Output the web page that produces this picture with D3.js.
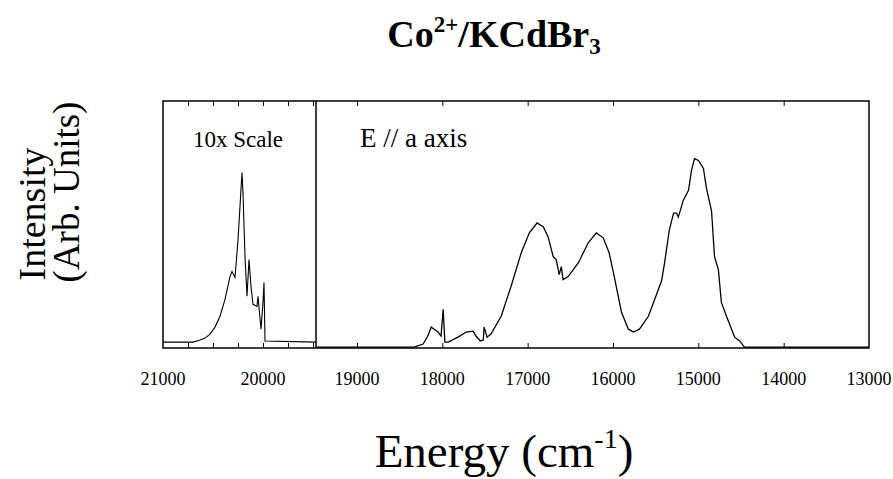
<!DOCTYPE html>
<html>
<head>
<meta charset="utf-8">
<script src="https://cdn.jsdelivr.net/npm/d3@7"></script>
<style>
  body { margin: 0; background: #fff; }
  text { font-family: "Liberation Serif", "Times New Roman", serif; fill: #000; }
</style>
</head>
<body>
<svg id="chart" width="893" height="479"></svg>
<script>
// left panel (10x scale)
const leftEnergy = [21000, 20700, 20630, 20580, 20530, 20480, 20430, 20380, 20330, 20310, 20280, 20250, 20210, 20200, 20180, 20160, 20140, 20120, 20100, 20060, 20050, 20020, 20000, 19990, 19980, 19470];
const leftIntensity = [0.031, 0.031, 0.042, 0.052, 0.073, 0.110, 0.167, 0.256, 0.376, 0.402, 0.371, 0.569, 0.924, 0.815, 0.480, 0.272, 0.465, 0.324, 0.230, 0.219, 0.272, 0.099, 0.240, 0.345, 0.037, 0.031];

// main panel, E // a axis
const mainEnergy = [19480, 18330, 18225, 18170, 18130, 18095, 18050, 18015, 17990, 17970, 17930, 17815, 17720, 17640, 17605, 17555, 17520, 17510, 17475, 17430, 17310, 17195, 17075, 16980, 16890, 16815, 16760, 16700, 16665, 16630, 16605, 16585, 16525, 16405, 16290, 16195, 16115, 16045, 15985, 15900, 15820, 15760, 15690, 15585, 15490, 15430, 15395, 15340, 15290, 15255, 15235, 15175, 15115, 15080, 15045, 14998, 14940, 14905, 14845, 14810, 14765, 14730, 14670, 14610, 14575, 14515, 14460, 13000];
const mainIntensity = [0.005, 0.005, 0.021, 0.063, 0.110, 0.099, 0.084, 0.063, 0.204, 0.031, 0.031, 0.057, 0.084, 0.089, 0.063, 0.037, 0.042, 0.110, 0.057, 0.073, 0.167, 0.324, 0.501, 0.606, 0.658, 0.637, 0.585, 0.480, 0.465, 0.386, 0.428, 0.360, 0.376, 0.449, 0.554, 0.606, 0.580, 0.501, 0.376, 0.188, 0.099, 0.084, 0.099, 0.167, 0.282, 0.355, 0.449, 0.621, 0.710, 0.710, 0.689, 0.778, 0.830, 0.935, 0.997, 0.987, 0.945, 0.841, 0.720, 0.480, 0.413, 0.240, 0.167, 0.099, 0.057, 0.037, 0.005, 0.005];

const leftTicks = [20750, 20500, 20250, 20000, 19750, 19500];
const leftLabels = [21000, 20000];
const mainTicks = [19000, 18000, 17000, 16000, 15000, 14000];
const mainLabels = [19000, 18000, 17000, 16000, 15000, 14000, 13000];

const svg = d3.select('#chart');
const frameTop = 101, frameBottom = 348, frameLeft = 163, split = 316, frameRight = 869;

const xl = d3.scaleLinear().domain([21000, 19470]).range([frameLeft, split]);
const xm = d3.scaleLinear().domain([19480, 13000]).range([split, frameRight]);
const y = d3.scaleLinear().domain([0, 1.3]).range([frameBottom, frameTop]);

// ticks, inward on top and bottom
function ticks(scale, values) {
  const g = svg.append('g');
  g.append('g').attr('transform', `translate(0,${frameBottom})`)
    .call(d3.axisBottom(scale).tickValues(values).tickSize(-5).tickFormat(''))
    .call(a => a.select('.domain').remove());
  g.append('g').attr('transform', `translate(0,${frameTop})`)
    .call(d3.axisTop(scale).tickValues(values).tickSize(-5).tickFormat(''))
    .call(a => a.select('.domain').remove());
  g.selectAll('line').attr('stroke', '#000').attr('stroke-width', 1);
}
ticks(xl, leftTicks);
ticks(xm, mainTicks);

// tick labels
svg.append('g').selectAll('text').data(leftLabels).enter().append('text')
  .attr('x', d => xl(d)).attr('y', 385).attr('text-anchor', 'middle')
  .attr('font-size', 18).text(d => d);
svg.append('g').selectAll('text').data(mainLabels).enter().append('text')
  .attr('x', d => xm(d)).attr('y', 385).attr('text-anchor', 'middle')
  .attr('font-size', 18).text(d => d);

// spectra
const line = xs => d3.line().x(d => xs(d[0])).y(d => y(d[1]));
svg.append('path').datum(d3.zip(leftEnergy, leftIntensity))
  .attr('d', line(xl)).attr('fill', 'none').attr('stroke', '#000').attr('stroke-width', 1.1);
svg.append('path').datum(d3.zip(mainEnergy, mainIntensity))
  .attr('d', line(xm)).attr('fill', 'none').attr('stroke', '#000').attr('stroke-width', 1.3);

// frame
svg.append('rect').attr('x', frameLeft).attr('y', frameTop)
  .attr('width', frameRight - frameLeft).attr('height', frameBottom - frameTop)
  .attr('fill', 'none').attr('stroke', '#000').attr('stroke-width', 1.5);
svg.append('line').attr('x1', split).attr('x2', split).attr('y1', frameTop).attr('y2', frameBottom)
  .attr('stroke', '#000').attr('stroke-width', 1.5);

// panel labels
svg.append('text').attr('x', 193).attr('y', 147).attr('font-size', 23).text('10x Scale');
svg.append('text').attr('x', 360).attr('y', 147).attr('font-size', 27).text('E // a axis');

// title
const title = svg.append('text').attr('x', 494).attr('y', 47).attr('text-anchor', 'middle')
  .attr('font-size', 38).attr('font-weight', 'bold');
title.append('tspan').text('Co');
title.append('tspan').attr('font-size', 23).attr('dy', -15).text('2+');
title.append('tspan').attr('dy', 15).text('/KCdBr');
title.append('tspan').attr('font-size', 23).attr('dy', 7).text('3');

// x label
const xlab = svg.append('text').attr('x', 504).attr('y', 467).attr('text-anchor', 'middle').attr('font-size', 47);
xlab.append('tspan').text('Energy (cm');
xlab.append('tspan').attr('font-size', 28).attr('dy', -19).text('-1');
xlab.append('tspan').attr('dy', 19).text(')');

// y label
svg.append('text').attr('transform', 'translate(45,214) rotate(-90)').attr('text-anchor', 'middle')
  .attr('font-size', 38).text('Intensity');
svg.append('text').attr('transform', 'translate(79,192) rotate(-90)').attr('text-anchor', 'middle')
  .attr('font-size', 37).text('(Arb. Units)');
</script>
</body>
</html>
